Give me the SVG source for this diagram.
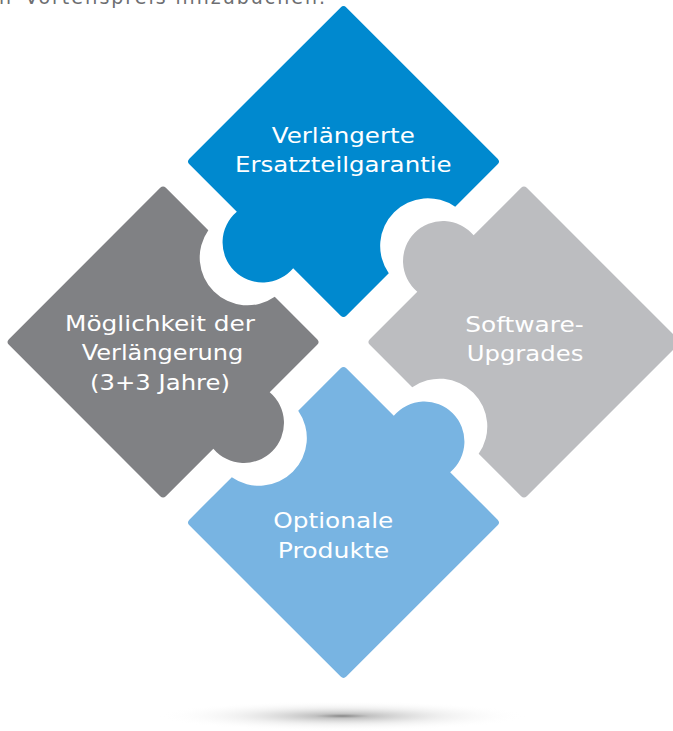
<svg xmlns="http://www.w3.org/2000/svg" width="673" height="731" viewBox="0 0 673 731">
  <defs>
    <path id="piece" d="M -234.6 -238.6 H -20.6 A 4 4 0 0 1 -16.6 -234.6 V -174.57 A 47.7 47.7 0 0 0 -16.6 -80.63 V -20.6 A 4 4 0 0 1 -20.6 -16.6 H -87.75 A 40 40 0 1 1 -167.45 -16.6 H -234.6 A 4 4 0 0 1 -238.6 -20.6 V -234.6 A 4 4 0 0 1 -234.6 -238.6 Z"/>
    <radialGradient id="shadow" cx="0.5" cy="0.5" r="0.5">
      <stop offset="0" stop-color="#707070" stop-opacity="0.85"/>
      <stop offset="0.15" stop-color="#9a9a9a" stop-opacity="0.6"/>
      <stop offset="0.55" stop-color="#cfcfcf" stop-opacity="0.3"/>
      <stop offset="1" stop-color="#ffffff" stop-opacity="0"/>
    </radialGradient>
  </defs>
  <style>
    .lbl { font-family: "DejaVu Sans", "Liberation Sans", sans-serif; font-size: 21px; fill: #ffffff; text-anchor: middle; }
    .top { font-family: "DejaVu Sans", "Liberation Sans", sans-serif; font-size: 19px; fill: #6d6e71; }
  </style>
  <rect width="673" height="731" fill="#ffffff"/>
  <text class="top" y="4"><tspan x="-1">n</tspan><tspan x="25" textLength="300" lengthAdjust="spacing">Vorteilspreis hinzubuchen.</tspan></text>

  <ellipse cx="342" cy="716" rx="185" ry="15" fill="url(#shadow)"/>

  <g id="node-ersatzteilgarantie">
    <use href="#piece" transform="translate(343.5 342) rotate(45)" fill="#0089CF"/>
    <text class="lbl" x="343.3" y="143.3" textLength="143" lengthAdjust="spacingAndGlyphs">Verlängerte</text>
    <text class="lbl" x="343.3" y="171.7" textLength="216.7" lengthAdjust="spacingAndGlyphs">Ersatzteilgarantie</text>
  </g>
  <g id="node-software">
    <use href="#piece" transform="translate(343.5 342) rotate(135)" fill="#BCBDC0"/>
    <text class="lbl" x="524.5" y="331.7" textLength="118.3" lengthAdjust="spacingAndGlyphs">Software-</text>
    <text class="lbl" x="525" y="361" textLength="116.7" lengthAdjust="spacingAndGlyphs">Upgrades</text>
  </g>
  <g id="node-optionale">
    <use href="#piece" transform="translate(343.5 342) rotate(225)" fill="#78B4E2"/>
    <text class="lbl" x="333.3" y="528.3" textLength="120" lengthAdjust="spacingAndGlyphs">Optionale</text>
    <text class="lbl" x="333.5" y="557.7" textLength="111.6" lengthAdjust="spacingAndGlyphs">Produkte</text>
  </g>
  <g id="node-verlaengerung">
    <use href="#piece" transform="translate(343.5 342) rotate(315)" fill="#808184"/>
    <text class="lbl" x="160" y="330.7" textLength="190" lengthAdjust="spacingAndGlyphs">Möglichkeit der</text>
    <text class="lbl" x="162.5" y="360.3" textLength="161.7" lengthAdjust="spacingAndGlyphs">Verlängerung</text>
    <text class="lbl" x="160" y="390" textLength="140" lengthAdjust="spacingAndGlyphs">(3+3 Jahre)</text>
  </g>
</svg>
